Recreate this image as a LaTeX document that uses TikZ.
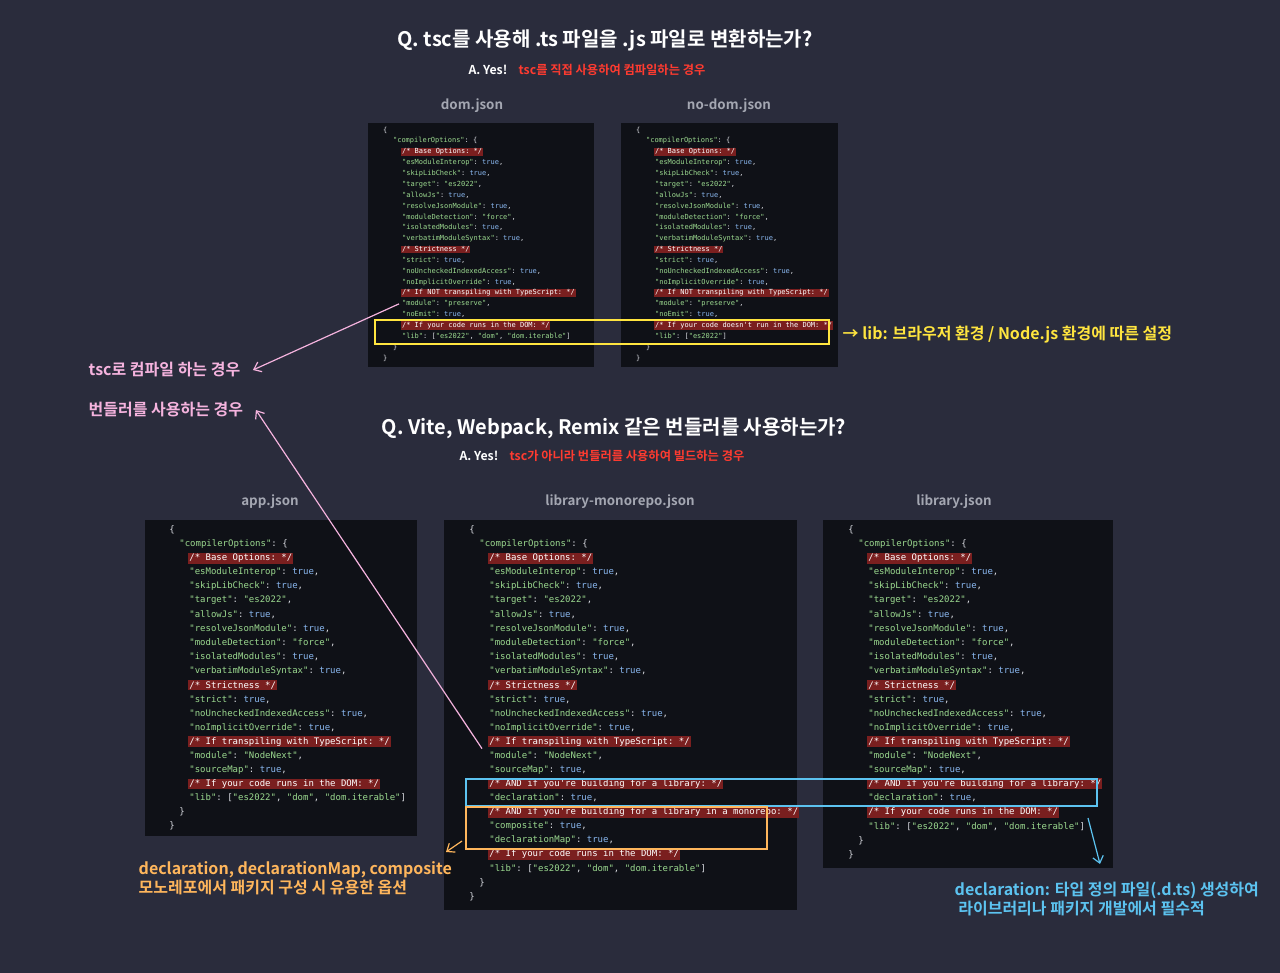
\documentclass[tikz,border=0pt]{standalone}
\usepackage{fontspec}
\usetikzlibrary{arrows.meta}
\setmainfont{Noto Sans CJK KR}[BoldFont = * Bold]
\setmonofont{DejaVu Sans Mono}
\definecolor{bg}{HTML}{2A2C3C}
\definecolor{panel}{HTML}{0F1117}
\definecolor{cmt}{HTML}{7A1F1F}
\definecolor{kcol}{HTML}{9BD98F}
\definecolor{vcol}{HTML}{8AB8F0}
\definecolor{pun}{HTML}{D8DAE0}
\definecolor{lab}{HTML}{A4A7B2}
\definecolor{redt}{HTML}{FF3B30}
\definecolor{yel}{HTML}{FFE53F}
\definecolor{pinkc}{HTML}{F5B3DE}
\definecolor{orc}{HTML}{FFB65C}
\definecolor{bluec}{HTML}{5CC3F0}
\newcommand\kq[1]{\textcolor{kcol}{"#1"}}
\newcommand\tv{\textcolor{vcol}{true}}
\newcommand\KV[1]{\kq{#1}: \tv,}
\newcommand\cl[3]{\node[code,anchor=west] at (#1,#2) {#3};}
\newcommand\cc[3]{\node[code,anchor=west,fill=cmt,text=white] at (#1,#2) {#3};}
\newcommand\commonbody[1]{%
\cc{#1}{2}{/* Base Options: */}
\cl{#1}{3}{\KV{esModuleInterop}}
\cl{#1}{4}{\KV{skipLibCheck}}
\cl{#1}{5}{\kq{target}: \kq{es2022},}
\cl{#1}{6}{\KV{allowJs}}
\cl{#1}{7}{\KV{resolveJsonModule}}
\cl{#1}{8}{\kq{moduleDetection}: \kq{force},}
\cl{#1}{9}{\KV{isolatedModules}}
\cl{#1}{10}{\KV{verbatimModuleSyntax}}
\cc{#1}{11}{/* Strictness */}
\cl{#1}{12}{\KV{strict}}
\cl{#1}{13}{\KV{noUncheckedIndexedAccess}}
\cl{#1}{14}{\KV{noImplicitOverride}}}
\newcommand\head[1]{\cl{0}{0}{\{}\cl{10}{1}{\kq{compilerOptions}: \{}}
\begin{document}
\begin{tikzpicture}[x=0.75pt,y=-0.75pt,
  code/.style={font=\ttfamily\fontsize{5.25}{6}\selectfont,text=pun,inner sep=0.6pt},
  lbl/.style={font=\bfseries\fontsize{10}{12}\selectfont,text=lab},
  note/.style={font=\bfseries\fontsize{12}{14.5}\selectfont,anchor=west,align=left},
  tip/.style={-{Straight Barb[length=5pt,width=8pt]}}]
\fill[bg] (0,0) rectangle (1280,973);
\useasboundingbox (0,0) rectangle (1280,973);
% titles
\node[font=\bfseries\fontsize{15}{17}\selectfont,text=white] (t1) at (605,40) {Q. tsc를 사용해 .ts 파일을 .js 파일로 변환하는가?};
\node[font=\bfseries\fontsize{9.2}{10}\selectfont,text=white,anchor=east] (a1) at (512,70) {A. Yes!};
\node[font=\bfseries\fontsize{9.2}{10}\selectfont,text=redt,anchor=west] (a1r) at (514,70) {tsc를 직접 사용하여 컴파일하는 경우};
\node[lbl] (l1) at (472,106) {dom.json};
\node[lbl] (l2) at (729,106) {no-dom.json};
\fill[panel] (368,123) rectangle (594,367);
\fill[panel] (621,123) rectangle (838,367);
\begin{scope}[shift={(382,130)},y={(0,-8.15pt)}]
\head{}\commonbody{19}
\cc{19}{15}{/* If NOT transpiling with TypeScript: */}
\coordinate (p1) at (17,16);
\cl{19}{16}{\kq{module}: \kq{preserve},}
\cl{19}{17}{\KV{noEmit}}
\cc{19}{18}{/* If your code runs in the DOM: */}
\cl{19}{19}{\kq{lib}: [\kq{es2022}, \kq{dom}, \kq{dom.iterable}]}
\cl{10}{20}{\}}\cl{0}{21}{\}}
\end{scope}
\begin{scope}[shift={(635,130)},y={(0,-8.15pt)}]
\head{}\commonbody{19}
\cc{19}{15}{/* If NOT transpiling with TypeScript: */}
\cl{19}{16}{\kq{module}: \kq{preserve},}
\cl{19}{17}{\KV{noEmit}}
\cc{19}{18}{/* If your code doesn't run in the DOM: */}
\cl{19}{19}{\kq{lib}: [\kq{es2022}]}
\cl{10}{20}{\}}\cl{0}{21}{\}}
\end{scope}
\draw[yel,line width=1.6pt] (375,320) rectangle (829,344);
\node[note,text=yel] (ylab) at (838,335) {→ lib: 브라우저 환경 / Node.js 환경에 따른 설정};
% pink labels
\node[note,text=pinkc] (pk1) at (84,370) {tsc로 컴파일 하는 경우};
\node[note,text=pinkc] (pk2) at (84,410) {번들러를 사용하는 경우};
\draw[pinkc,line width=0.9pt,tip] (p1) -- ([xshift=6pt]pk1.east);
% second title
\node[font=\bfseries\fontsize{15}{17}\selectfont,text=white] (t2) at (614,428) {Q. Vite, Webpack, Remix 같은 번들러를 사용하는가?};
\node[font=\bfseries\fontsize{9.2}{10}\selectfont,text=white,anchor=east] (a2) at (503,456) {A. Yes!};
\node[font=\bfseries\fontsize{9.2}{10}\selectfont,text=redt,anchor=west] (a2r) at (505,456) {tsc가 아니라 번들러를 사용하여 빌드하는 경우};
\node[lbl] (l3) at (270,502) {app.json};
\node[lbl] (l4) at (620,502) {library-monorepo.json};
\node[lbl] (l5) at (954,502) {library.json};
\fill[panel] (145,520) rectangle (417,836);
\fill[panel] (444,520) rectangle (797,910);
\fill[panel] (823,520) rectangle (1113,868);
\tikzset{code/.style={font=\ttfamily\fontsize{6.75}{8}\selectfont,text=pun,inner sep=0.8pt}}
\begin{scope}[shift={(168,530)},y={(0,-10.58pt)}]
\head{}\commonbody{20}
\cc{20}{15}{/* If transpiling with TypeScript: */}
\cl{20}{16}{\kq{module}: \kq{NodeNext},}
\cl{20}{17}{\KV{sourceMap}}
\cc{20}{18}{/* If your code runs in the DOM: */}
\cl{20}{19}{\kq{lib}: [\kq{es2022}, \kq{dom}, \kq{dom.iterable}]}
\cl{10}{20}{\}}\cl{0}{21}{\}}
\end{scope}
\begin{scope}[shift={(468,530)},y={(0,-10.58pt)}]
\head{}\commonbody{20}
\cc{20}{15}{/* If transpiling with TypeScript: */}
\coordinate (p2) at (14,15.5);
\cl{20}{16}{\kq{module}: \kq{NodeNext},}
\cl{20}{17}{\KV{sourceMap}}
\cc{20}{18}{/* AND if you're building for a library: */}
\cl{20}{19}{\KV{declaration}}
\cc{20}{20}{/* AND if you're building for a library in a monorepo: */}
\cl{20}{21}{\KV{composite}}
\cl{20}{22}{\KV{declarationMap}}
\cc{20}{23}{/* If your code runs in the DOM: */}
\cl{20}{24}{\kq{lib}: [\kq{es2022}, \kq{dom}, \kq{dom.iterable}]}
\cl{10}{25}{\}}\cl{0}{26}{\}}
\end{scope}
\begin{scope}[shift={(847,530)},y={(0,-10.58pt)}]
\head{}\commonbody{20}
\cc{20}{15}{/* If transpiling with TypeScript: */}
\cl{20}{16}{\kq{module}: \kq{NodeNext},}
\cl{20}{17}{\KV{sourceMap}}
\cc{20}{18}{/* AND if you're building for a library: */}
\cl{20}{19}{\KV{declaration}}
\cc{20}{20}{/* If your code runs in the DOM: */}
\cl{20}{21}{\kq{lib}: [\kq{es2022}, \kq{dom}, \kq{dom.iterable}]}
\cl{10}{22}{\}}\cl{0}{23}{\}}
\end{scope}
\draw[pinkc,line width=0.9pt,tip] (p2) -- ([xshift=6pt]pk2.east);
\draw[bluec,line width=1.6pt] (466,779) rectangle (1097,806);
\draw[orc,line width=1.6pt] (466,807) rectangle (767,849);
\coordinate (oa) at (462,841);
\node[note,text=orc] (olab) at (134,878) {declaration, declarationMap, composite\\모노레포에서 패키지 구성 시 유용한 옵션};
\draw[orc,line width=0.9pt,tip] (oa) -- (446,852);
\coordinate (ba) at (1088,818);
\node[note,text=bluec] (blab) at (950,899) {declaration: 타입 정의 파일(.d.ts) 생성하여\\\ 라이브러리나 패키지 개발에서 필수적};
\draw[bluec,line width=0.9pt,tip] (ba) -- (1100,864);
\end{tikzpicture}
\end{document}
